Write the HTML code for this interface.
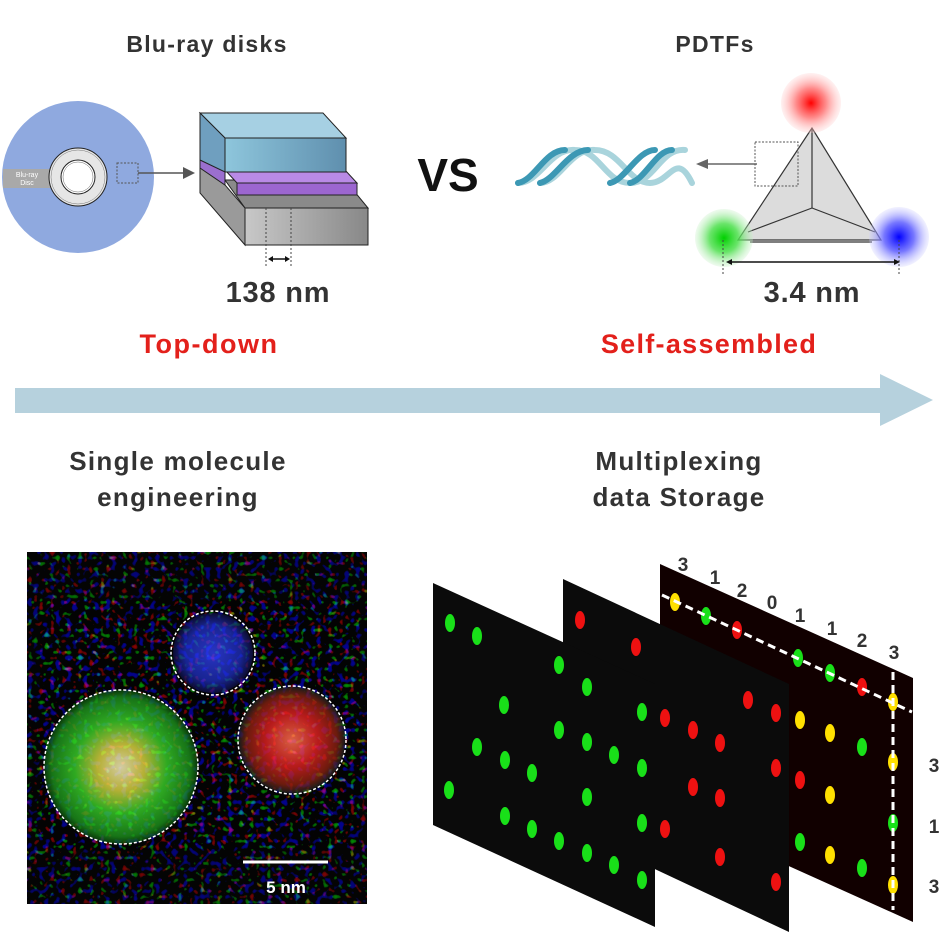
<!DOCTYPE html>
<html><head><meta charset="utf-8"><style>
html,body{margin:0;padding:0;background:#fff;}
svg{display:block;font-family:"Liberation Sans",Arial,sans-serif;}
.t{font-size:26px;font-weight:bold;fill:#333;letter-spacing:1.3px;}
</style></head><body>
<svg width="950" height="950" viewBox="0 0 950 950" xmlns="http://www.w3.org/2000/svg">
<defs>
<radialGradient id="gr"><stop offset="0" stop-color="#ff0000"/><stop offset="0.5" stop-color="#ff7070" stop-opacity="0.8"/><stop offset="1" stop-color="#ffd0d0" stop-opacity="0.3"/></radialGradient>
<radialGradient id="gg"><stop offset="0" stop-color="#00d000"/><stop offset="0.5" stop-color="#50e050" stop-opacity="0.85"/><stop offset="1" stop-color="#c8f0c8" stop-opacity="0.3"/></radialGradient>
<radialGradient id="gb"><stop offset="0" stop-color="#0000ff"/><stop offset="0.5" stop-color="#6060ff" stop-opacity="0.85"/><stop offset="1" stop-color="#d0d0ff" stop-opacity="0.3"/></radialGradient>
<linearGradient id="blue" x1="0" x2="1"><stop offset="0" stop-color="#8ec6dc"/><stop offset="1" stop-color="#5f8fae"/></linearGradient>
<linearGradient id="grey" x1="0" x2="1"><stop offset="0" stop-color="#c8c8c8"/><stop offset="1" stop-color="#888"/></linearGradient>
<radialGradient id="mg"><stop offset="0" stop-color="#f8f0c0"/><stop offset="0.3" stop-color="#d8d040"/><stop offset="0.6" stop-color="#38c828"/><stop offset="0.9" stop-color="#1c8a1c"/><stop offset="1" stop-color="#0c400c"/></radialGradient>
<radialGradient id="mb"><stop offset="0" stop-color="#3545ff"/><stop offset="0.7" stop-color="#2030c0"/><stop offset="1" stop-color="#101040"/></radialGradient>
<radialGradient id="mr"><stop offset="0" stop-color="#ff7050"/><stop offset="0.5" stop-color="#d82020"/><stop offset="0.85" stop-color="#802010"/><stop offset="1" stop-color="#202020"/></radialGradient>
<filter id="noise" x="0" y="0" width="1" height="1">
<feTurbulence type="fractalNoise" baseFrequency="0.18" numOctaves="1" seed="3"/>
<feColorMatrix values="6 0 0 0 -3.8  0 6 0 0 -3.8  0 0 7 0 -4.0  0 0 0 0 1"/>
</filter>
<clipPath id="mc"><rect x="27" y="552" width="340" height="352"/></clipPath>
</defs>

<text x="207" y="52" class="t" text-anchor="middle" style="font-size:23px">Blu-ray disks</text>
<text x="715" y="52" class="t" text-anchor="middle" style="font-size:23px">PDTFs</text>
<text x="448" y="191" font-size="46" font-weight="bold" fill="#111" text-anchor="middle">VS</text>

<circle cx="78" cy="177" r="76" fill="#8fa9df"/>
<rect x="3" y="169" width="50" height="19" fill="#a9a9a9"/>
<text x="27" y="177" font-size="7" fill="#fff" text-anchor="middle">Blu-ray</text>
<text x="27" y="185" font-size="7" fill="#fff" text-anchor="middle">Disc</text>
<circle cx="78" cy="177" r="29" fill="#e6e6e6" stroke="#222" stroke-width="1"/>
<circle cx="78" cy="177" r="27" fill="none" stroke="#777" stroke-width="0.5"/>
<circle cx="78" cy="177" r="17" fill="#fff" stroke="#222" stroke-width="1"/>
<circle cx="78" cy="177" r="15" fill="none" stroke="#666" stroke-width="0.5"/>
<rect x="117" y="163" width="21" height="20" fill="none" stroke="#555" stroke-dasharray="2,1.5"/>
<line x1="138" y1="173" x2="187" y2="173" stroke="#555" stroke-width="1.5"/>
<polygon points="195,173 183,167 183,179" fill="#555"/>

<polygon points="225,180 345,180 368,208 245,208" fill="#8a8a8a" stroke="#222"/>
<rect x="245" y="208" width="123" height="37" fill="url(#grey)" stroke="#222"/>
<polygon points="200,150 200,193 245,245 245,208 225,185" fill="#9a9a9a" stroke="#222"/>
<polygon points="200,150 225,170 225,185 200,168" fill="#9b6fcf" stroke="#222"/>
<polygon points="225,170 345,170 357,183 237,183" fill="#b98ae6" stroke="#222"/>
<rect x="237" y="183" width="120" height="12" fill="#9c66d0" stroke="#222"/>
<polygon points="200,113 323,113 346,138 225,138" fill="#a6d0e3" stroke="#222"/>
<polygon points="200,113 225,138 225,172 200,160" fill="#6f9fbf" stroke="#222"/>
<rect x="225" y="138" width="121" height="34" fill="url(#blue)" stroke="#222"/>
<line x1="266" y1="208" x2="266" y2="268" stroke="#444" stroke-dasharray="2,2"/>
<line x1="291" y1="208" x2="291" y2="268" stroke="#444" stroke-dasharray="2,2"/>
<line x1="270" y1="259" x2="287" y2="259" stroke="#111" stroke-width="1.5"/>
<polygon points="268,259 273,256 273,262" fill="#111"/><polygon points="290,259 285,256 285,262" fill="#111"/>
<text x="278" y="302" font-size="29" font-weight="bold" fill="#333" text-anchor="middle" letter-spacing="0.8">138 nm</text>

<g fill="none" stroke-width="6" stroke-linecap="round">
<path d="M518,183 C540,183 550,148 575,150 C600,150 605,183 630,183 C655,183 660,148 685,150" stroke="#a9d4dc"/>
<path d="M540,183 C560,183 570,148 595,150 C620,150 628,183 650,183 C670,183 676,150 692,183" stroke="#a9d4dc"/>
<path d="M518,183 C535,180 545,150 565,150 M540,183 C555,180 568,150 588,150 M610,183 C625,180 638,150 655,150 M630,183 C645,180 656,150 672,150" stroke="#3c98b4"/>
</g>
<line x1="757" y1="164" x2="705" y2="164" stroke="#666" stroke-width="1.5"/>
<polygon points="696,164 708,159 708,169" fill="#666"/>

<polygon points="812,128 738,240 881,240" fill="#dcdcdc" stroke="#333" stroke-width="1.2"/>
<line x1="812" y1="128" x2="812" y2="208" stroke="#333" stroke-width="1.2"/>
<line x1="812" y1="208" x2="748" y2="232" stroke="#333" stroke-width="1.2"/>
<line x1="812" y1="208" x2="875" y2="232" stroke="#333" stroke-width="1.2"/>
<line x1="750" y1="242" x2="872" y2="242" stroke="#333" stroke-width="1.2"/>
<rect x="755" y="142" width="43" height="44" fill="none" stroke="#555" stroke-dasharray="2,1.5"/>
<circle cx="811" cy="103" r="30" fill="url(#gr)"/>
<circle cx="724" cy="238" r="29" fill="url(#gg)"/>
<circle cx="899" cy="237" r="30" fill="url(#gb)"/>
<line x1="723" y1="240" x2="723" y2="276" stroke="#444" stroke-dasharray="2,2"/>
<line x1="899" y1="240" x2="899" y2="276" stroke="#444" stroke-dasharray="2,2"/>
<line x1="730" y1="262" x2="895" y2="262" stroke="#111" stroke-width="1.5"/>
<polygon points="726,262 732,259 732,265" fill="#111"/><polygon points="900,262 894,259 894,265" fill="#111"/>
<text x="812" y="302" font-size="29" font-weight="bold" fill="#333" text-anchor="middle" letter-spacing="0.8">3.4 nm</text>

<text x="209" y="353" font-size="27" font-weight="bold" fill="#e3201b" text-anchor="middle" letter-spacing="1.5">Top-down</text>
<text x="709" y="353" font-size="27" font-weight="bold" fill="#e3201b" text-anchor="middle" letter-spacing="1.3">Self-assembled</text>

<rect x="15" y="388" width="868" height="25" fill="#b6d1dd"/>
<polygon points="880,374 933,400 880,426" fill="#b6d1dd"/>

<text x="178" y="470" class="t" text-anchor="middle">Single molecule</text>
<text x="178" y="506" class="t" text-anchor="middle">engineering</text>
<text x="679" y="470" class="t" text-anchor="middle">Multiplexing</text>
<text x="679" y="506" class="t" text-anchor="middle">data Storage</text>

<g clip-path="url(#mc)">
<rect x="27" y="552" width="340" height="352" fill="#080808"/>
<rect x="27" y="552" width="340" height="352" filter="url(#noise)" opacity="0.45"/>
<circle cx="121" cy="767" r="77" fill="url(#mg)"/>
<circle cx="213" cy="653" r="40" fill="url(#mb)" opacity="0.9"/>
<circle cx="292" cy="740" r="53" fill="url(#mr)"/>
<rect x="40" y="600" width="320" height="250" filter="url(#noise)" opacity="0.15"/>
<circle cx="121" cy="767" r="77" fill="none" stroke="#fff" stroke-width="1.5" stroke-dasharray="3,2"/>
<circle cx="213" cy="653" r="42" fill="none" stroke="#fff" stroke-width="1.5" stroke-dasharray="3,2"/>
<circle cx="292" cy="740" r="54" fill="none" stroke="#fff" stroke-width="1.5" stroke-dasharray="3,2"/>
<line x1="243" y1="862" x2="328" y2="862" stroke="#fff" stroke-width="3"/>
<text x="286" y="893" font-size="17" font-weight="bold" fill="#fff" text-anchor="middle">5 nm</text>
</g>

<polygon points="660,564 913,678 913,922 660,808" fill="#110000"/>
<polygon points="563,579 789,684 789,932 563,826" fill="#0b0b0b"/>
<polygon points="433,583 655,684 655,927 433,825" fill="#0b0b0b"/>
<g fill="#19e019">
<ellipse cx="450" cy="623" rx="5" ry="9"/><ellipse cx="477" cy="636" rx="5" ry="9"/><ellipse cx="504" cy="705" rx="5" ry="9"/>
<ellipse cx="477" cy="747" rx="5" ry="9"/><ellipse cx="505" cy="760" rx="5" ry="9"/><ellipse cx="532" cy="773" rx="5" ry="9"/>
<ellipse cx="449" cy="790" rx="5" ry="9"/><ellipse cx="505" cy="816" rx="5" ry="9"/><ellipse cx="532" cy="829" rx="5" ry="9"/>
<ellipse cx="559" cy="665" rx="5" ry="9"/><ellipse cx="559" cy="730" rx="5" ry="9"/><ellipse cx="559" cy="841" rx="5" ry="9"/>
<ellipse cx="587" cy="687" rx="5" ry="9"/><ellipse cx="587" cy="742" rx="5" ry="9"/><ellipse cx="587" cy="797" rx="5" ry="9"/>
<ellipse cx="587" cy="853" rx="5" ry="9"/><ellipse cx="614" cy="755" rx="5" ry="9"/><ellipse cx="614" cy="865" rx="5" ry="9"/>
<ellipse cx="642" cy="712" rx="5" ry="9"/><ellipse cx="642" cy="768" rx="5" ry="9"/><ellipse cx="642" cy="823" rx="5" ry="9"/><ellipse cx="642" cy="880" rx="5" ry="9"/>
<ellipse cx="706" cy="616" rx="5" ry="9"/><ellipse cx="798" cy="658" rx="5" ry="9"/><ellipse cx="830" cy="673" rx="5" ry="9"/>
<ellipse cx="862" cy="747" rx="5" ry="9"/><ellipse cx="893" cy="823" rx="5" ry="9"/><ellipse cx="800" cy="842" rx="5" ry="9"/><ellipse cx="862" cy="868" rx="5" ry="9"/>
</g>
<g fill="#ee1111">
<ellipse cx="580" cy="620" rx="5" ry="9"/><ellipse cx="636" cy="647" rx="5" ry="9"/><ellipse cx="665" cy="718" rx="5" ry="9"/>
<ellipse cx="693" cy="730" rx="5" ry="9"/><ellipse cx="720" cy="743" rx="5" ry="9"/><ellipse cx="693" cy="787" rx="5" ry="9"/>
<ellipse cx="720" cy="798" rx="5" ry="9"/><ellipse cx="665" cy="829" rx="5" ry="9"/><ellipse cx="720" cy="857" rx="5" ry="9"/>
<ellipse cx="748" cy="700" rx="5" ry="9"/><ellipse cx="776" cy="713" rx="5" ry="9"/><ellipse cx="776" cy="768" rx="5" ry="9"/><ellipse cx="776" cy="882" rx="5" ry="9"/>
<ellipse cx="737" cy="630" rx="5" ry="9"/><ellipse cx="862" cy="687" rx="5" ry="9"/><ellipse cx="800" cy="780" rx="5" ry="9"/>
</g>
<g fill="#ffe000">
<ellipse cx="675" cy="602" rx="5" ry="9"/><ellipse cx="893" cy="702" rx="5" ry="9"/><ellipse cx="800" cy="720" rx="5" ry="9"/>
<ellipse cx="830" cy="733" rx="5" ry="9"/><ellipse cx="893" cy="762" rx="5" ry="9"/><ellipse cx="830" cy="795" rx="5" ry="9"/>
<ellipse cx="830" cy="855" rx="5" ry="9"/><ellipse cx="893" cy="885" rx="5" ry="9"/>
</g>
<line x1="662" y1="595" x2="912" y2="712" stroke="#fff" stroke-width="3" stroke-dasharray="8,5"/>
<line x1="893" y1="672" x2="893" y2="910" stroke="#fff" stroke-width="3" stroke-dasharray="8,5"/>
<g font-size="19" font-weight="bold" fill="#333" text-anchor="middle">
<text x="683" y="571">3</text><text x="715" y="584">1</text><text x="742" y="597">2</text><text x="772" y="609">0</text>
<text x="800" y="622">1</text><text x="832" y="635">1</text><text x="862" y="647">2</text><text x="894" y="659">3</text>
<text x="934" y="772">3</text><text x="934" y="833">1</text><text x="934" y="893">3</text>
</g>
</svg>
</body></html>
